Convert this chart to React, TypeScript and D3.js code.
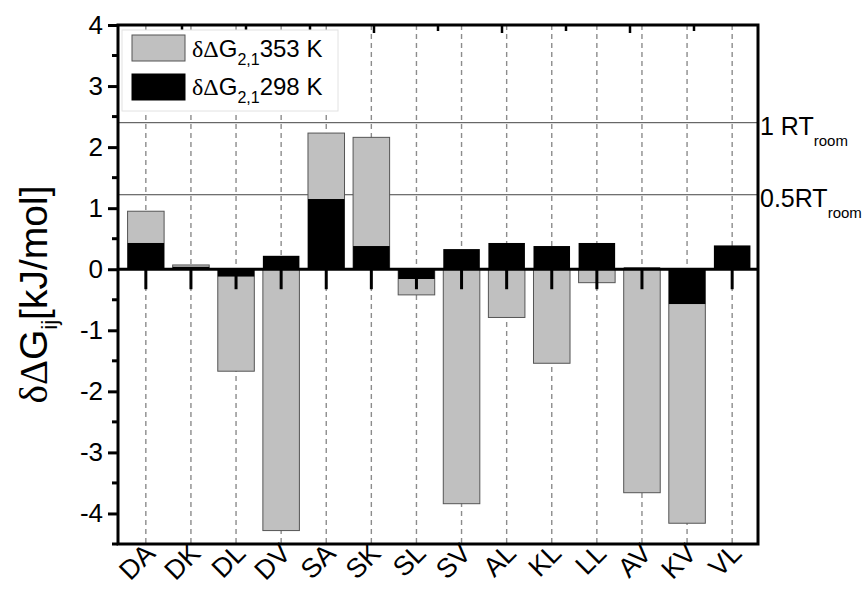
import React, { useEffect, useRef } from 'react';
import * as d3 from 'd3';

// pair labels along the x axis
const pairs = ['DA', 'DK', 'DL', 'DV', 'SA', 'SK', 'SL', 'SV', 'AL', 'KL', 'LL', 'AV', 'KV', 'VL'];
// δΔG(2,1) at 353 K (grey bars)
const dG353 = [0.95, 0.07, -1.67, -4.28, 2.23, 2.16, -0.42, -3.84, -0.79, -1.54, -0.22, -3.66, -4.16, 0];
// δΔG(2,1) at 298 K (black bars)
const dG298 = [0.43, 0.04, -0.12, 0.22, 1.15, 0.38, -0.16, 0.33, 0.43, 0.38, 0.43, 0.03, -0.57, 0.39];
const yTicks = [-4, -3, -2, -1, 0, 1, 2, 3, 4];
// reference levels: 1 RT and 0.5 RT at room temperature
const refLevels = [2.4, 1.22];
const refLabels = ['1 RT', '0.5RT'];

const App = () => {
  const svgRef = useRef<SVGSVGElement>(null);

  useEffect(() => {
    document.body.style.margin = '0';
    const svg = d3.select(svgRef.current);
    svg.selectAll('*').remove();

    const sans = 'Arial, "Liberation Sans", sans-serif';
    const serif = '"Liberation Serif", "Times New Roman", serif';
    const margin = { top: 25, right: 106, bottom: 53, left: 118 };
    const width = 864;
    const height = 597;

    const x = d3
      .scaleBand()
      .domain(pairs)
      .range([margin.left + 1, width - margin.right + 1])
      .padding(0.19);
    const y = d3.scaleLinear().domain([-4.5, 4]).range([height - margin.bottom, margin.top]);
    const cx = (d: string) => (x(d) as number) + x.bandwidth() / 2;
    const y0 = y(0);

    // dashed category guides
    svg
      .append('g')
      .selectAll('line')
      .data(pairs)
      .enter()
      .append('line')
      .attr('x1', cx)
      .attr('x2', cx)
      .attr('y1', margin.top)
      .attr('y2', height - margin.bottom)
      .attr('stroke', '#8c8c8c')
      .attr('stroke-width', 1.4)
      .attr('stroke-dasharray', '5,4');

    // RT reference lines
    svg
      .append('g')
      .selectAll('line')
      .data(refLevels)
      .enter()
      .append('line')
      .attr('x1', margin.left)
      .attr('x2', width - margin.right)
      .attr('y1', (d) => y(d))
      .attr('y2', (d) => y(d))
      .attr('stroke', '#444')
      .attr('stroke-width', 1);

    // grey bars (353 K)
    svg
      .append('g')
      .selectAll('rect')
      .data(dG353)
      .enter()
      .append('rect')
      .attr('x', (d, i) => x(pairs[i]) as number)
      .attr('width', x.bandwidth())
      .attr('y', (d) => Math.min(y(d), y0))
      .attr('height', (d) => Math.abs(y(d) - y0))
      .attr('fill', '#c0c0c0')
      .attr('stroke', '#555')
      .attr('stroke-width', 1);

    // black bars (298 K)
    svg
      .append('g')
      .selectAll('rect')
      .data(dG298)
      .enter()
      .append('rect')
      .attr('x', (d, i) => x(pairs[i]) as number)
      .attr('width', x.bandwidth())
      .attr('y', (d) => Math.min(y(d), y0))
      .attr('height', (d) => Math.abs(y(d) - y0))
      .attr('fill', '#000');

    // zero line with category ticks
    svg
      .append('line')
      .attr('x1', margin.left)
      .attr('x2', width - margin.right)
      .attr('y1', y0)
      .attr('y2', y0)
      .attr('stroke', '#000')
      .attr('stroke-width', 3);
    svg
      .append('g')
      .selectAll('line')
      .data(pairs)
      .enter()
      .append('line')
      .attr('x1', cx)
      .attr('x2', cx)
      .attr('y1', y0)
      .attr('y2', y0 + 20)
      .attr('stroke', '#000')
      .attr('stroke-width', 3);

    // frame
    svg
      .append('rect')
      .attr('x', margin.left)
      .attr('y', margin.top)
      .attr('width', width - margin.left - margin.right)
      .attr('height', height - margin.top - margin.bottom)
      .attr('fill', 'none')
      .attr('stroke', '#000')
      .attr('stroke-width', 3);

    // top axis minor ticks (inward)
    const topScale = d3.scaleLinear().domain([0, 10]).range([margin.left, width - margin.right]);
    svg
      .append('g')
      .selectAll('line')
      .data(d3.range(1, 10))
      .enter()
      .append('line')
      .attr('x1', (d) => topScale(d))
      .attr('x2', (d) => topScale(d))
      .attr('y1', margin.top)
      .attr('y2', (d) => margin.top + (d % 2 === 0 ? 8 : 6))
      .attr('stroke', '#000')
      .attr('stroke-width', 2.5);

    // left y axis
    const yAxis = svg
      .append('g')
      .attr('transform', `translate(${margin.left},0)`)
      .call(
        d3
          .axisLeft(y)
          .tickValues(yTicks)
          .tickSize(10)
          .tickPadding(5)
          .tickFormat((d) => String(d))
      );
    yAxis.select('.domain').remove();
    yAxis.selectAll('line').attr('stroke-width', 3);
    yAxis.selectAll('text').attr('font-size', 26).attr('font-family', sans).attr('fill', '#000');
    svg
      .append('g')
      .selectAll('line')
      .data(yTicks.slice(0, -1).map((d) => d + 0.5).concat([-4.5]))
      .enter()
      .append('line')
      .attr('x1', margin.left - 6)
      .attr('x2', margin.left)
      .attr('y1', (d) => y(d))
      .attr('y2', (d) => y(d))
      .attr('stroke', '#000')
      .attr('stroke-width', 3);

    // category labels
    svg
      .append('g')
      .selectAll('text')
      .data(pairs)
      .enter()
      .append('text')
      .attr('transform', (d) => `translate(${cx(d) + 11},${height - margin.bottom + 11}) rotate(-45)`)
      .attr('text-anchor', 'end')
      .attr('font-size', 27)
      .attr('font-family', sans)
      .text((d) => d);

    // RT labels
    refLevels.forEach((v, i) => {
      const t = svg
        .append('text')
        .attr('x', width - margin.right + 2)
        .attr('y', y(v) + 12)
        .attr('font-size', 25)
        .attr('font-family', sans);
      t.append('tspan').text(refLabels[i]);
      t.append('tspan').attr('font-size', 15).attr('dy', 11).text('room');
    });

    // y axis title
    const title = svg
      .append('text')
      .attr('transform', `translate(47,${(margin.top + height - margin.bottom) / 2 + 10}) rotate(-90)`)
      .attr('text-anchor', 'middle')
      .attr('font-size', 39)
      .attr('font-family', sans);
    title.append('tspan').attr('font-family', serif).text('δΔ');
    title.append('tspan').text('G');
    title.append('tspan').attr('font-size', 22).attr('dy', 10).text('ij');
    title.append('tspan').attr('dy', -10).text('[kJ/mol]');

    // legend
    const legend = svg.append('g');
    legend
      .append('rect')
      .attr('x', 122)
      .attr('y', 30)
      .attr('width', 216)
      .attr('height', 81)
      .attr('fill', '#fff')
      .attr('stroke', '#e2e2e2')
      .attr('stroke-width', 1);
    const items = [
      { fill: '#c0c0c0', stroke: '#555', temp: '353 K' },
      { fill: '#000', stroke: '#000', temp: '298 K' },
    ];
    items.forEach((it, i) => {
      legend
        .append('rect')
        .attr('x', 132)
        .attr('y', 35 + i * 39)
        .attr('width', 53)
        .attr('height', 26)
        .attr('fill', it.fill)
        .attr('stroke', it.stroke)
        .attr('stroke-width', 1);
      const t = legend
        .append('text')
        .attr('x', 192)
        .attr('y', 57 + i * 38)
        .attr('font-size', 24)
        .attr('font-family', sans);
      t.append('tspan').attr('font-family', serif).text('δΔ');
      t.append('tspan').text('G');
      t.append('tspan').attr('font-size', 16).attr('dy', 8).text('2,1');
      t.append('tspan').attr('dy', -8).text(it.temp);
    });
  }, []);

  return <svg ref={svgRef} width={864} height={597} style={{ display: 'block', background: '#fff' }} />;
};

export default App;
